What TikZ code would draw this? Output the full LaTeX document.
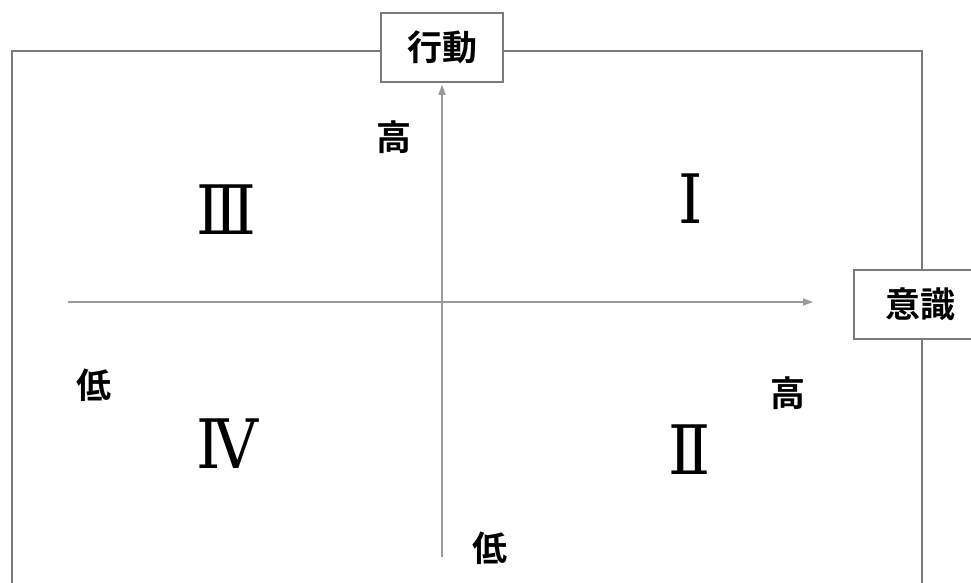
\documentclass[tikz,border=0pt]{standalone}
\usepackage{fontspec}
\newfontfamily\cjk{Noto Sans CJK JP}
\newfontfamily\cjkb{Noto Sans CJK JP Bold}
\newfontfamily\romanfont{DejaVu Serif}
\usetikzlibrary{arrows.meta}
\definecolor{framegray}{HTML}{7A7A7A}
\definecolor{axisgray}{HTML}{9A9A9A}
\tikzset{
  lbl/.style={font=\cjkb\fontsize{35}{35}\selectfont, inner sep=0pt, text=black},
  numeral/.style={font=\romanfont\fontsize{62}{62}\selectfont, inner sep=0pt, text=black, yscale=1.1},
  titlebox/.style={draw=framegray, line width=1.5pt, fill=white, inner sep=0pt, font=\cjkb\fontsize{35}{35}\selectfont},
  axis/.style={draw=axisgray, line width=1.3pt, -{Triangle[length=10pt,width=7pt]}},
}
\begin{document}
\begin{tikzpicture}[x=1pt,y=-1pt]
\useasboundingbox (0,0) rectangle (971,582);
\clip (0,0) rectangle (971,582);
\fill[white] (0,0) rectangle (971,582);
% frame
\draw[framegray, line width=2pt] (12,600) -- (12,51) -- (922,51) -- (922,600);
% boxes
\node[titlebox, minimum width=122pt, minimum height=69pt] (act) at (442,47.5) {行動};
\node[titlebox, minimum width=132pt, minimum height=69pt] (ish) at (920,304.5) {意識};
% axes
\coordinate (hstart) at (68,302);
\coordinate (hend) at (813,302);
\coordinate (vstart) at (442,557);
\draw[axis] (hstart) -- (hend);
\draw[axis, shorten >=2pt] (vstart) -- (act.south);
% labels
\node[lbl] (hiV) at (394,137) {高};
\node[lbl] (loH) at (94,385) {低};
\node[lbl] (hiH) at (788,393) {高};
\node[lbl] (loV) at (490,548) {低};
% numerals
\node[numeral] (q1) at (691,199) {Ⅰ};
\node[numeral] (q2) at (690,450) {Ⅱ};
\node[numeral] (q3) at (226,210) {Ⅲ};
\node[numeral] (q4) at (227,444) {Ⅳ};
\end{tikzpicture}
\end{document}
